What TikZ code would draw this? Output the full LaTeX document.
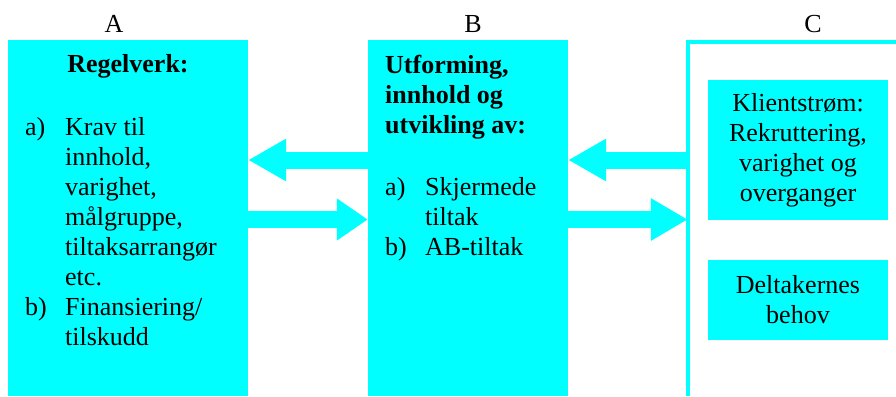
\documentclass[tikz,border=0pt]{standalone}
\usepackage{fontspec}
\setmainfont{Liberation Serif}
\usepackage{tikz}
\usetikzlibrary{arrows.meta}
\usepackage{xcolor}
\definecolor{aqua}{RGB}{0,255,255}

\begin{document}
\begin{tikzpicture}[x=1pt, y=-1pt, font=\fontsize{26}{30}\selectfont]

  \tikzstyle{box} = [rectangle, fill=aqua, inner sep=0pt];
  \tikzstyle{txt} = [inner sep=0pt, align=left, anchor=base west];
  \tikzstyle{fat} = [draw=aqua, line width=17pt, -{Triangle[length=#1, width=40pt]}];
  \tikzset{fat/.default=38pt}
  \useasboundingbox (0,0) rectangle (896,396);

  \node[box, minimum width=240pt, minimum height=356pt] (regel) at (128,218) {};
  \node[box, minimum width=200pt, minimum height=356pt] (utform) at (468,218) {};
  \node[rectangle, inner sep=0pt, minimum width=208pt, minimum height=354pt] (klient) at (792,219) {};
  \draw[aqua, line width=4pt] (klient.south west) -- (klient.north west) -- ([xshift=2pt]klient.north east);

  \node[anchor=base] (labA) at (114,33) {A};
  \node[anchor=base] (labB) at (473,33) {B};
  \node[anchor=base] (labC) at (813,33) {C};

  % multi-line nodes: base = last line
  \node[txt, anchor=base] (regeltit) at (128,73) {\textbf{Regelverk:}};
  \node[txt] (regelliste) at (25,345) {\makebox[40pt][l]{a)}Krav til\\
    \hspace*{40pt}innhold,\\
    \hspace*{40pt}varighet,\\
    \hspace*{40pt}målgruppe,\\
    \hspace*{40pt}tiltaksarrangør\\
    \hspace*{40pt}etc.\\
    \makebox[40pt][l]{b)}Finansiering/\\
    \hspace*{40pt}tilskudd};

  \node[txt, font=\fontsize{26}{30}\selectfont\bfseries] (utformtit) at (385,133) {Utforming,\\innhold og\\utvikling av:};
  \node[txt] (utformliste) at (385,255) {\makebox[40pt][l]{a)}Skjermede\\
    \hspace*{40pt}tiltak\\
    \makebox[40pt][l]{b)}AB-tiltak};

  \node[box, align=center, minimum width=180pt, minimum height=140pt] (strom) at (798,150) {Klientstrøm:\\Rekruttering,\\varighet og\\overganger};
  \node[box, align=center, minimum width=180pt, minimum height=80pt] (behov) at (798,300) {Deltakernes\\behov};

  \draw[fat] (utform.west |- 0,160) -- (regel.east |- 0,160);
  \draw[fat=31pt] (regel.east |- 0,219.5) -- (utform.west |- 0,219.5);
  \draw[fat] (klient.west |- 0,160) -- (utform.east |- 0,160);
  \draw[fat=37pt] (utform.east |- 0,219.5) -- (klient.west |- 0,219.5);
\end{tikzpicture}
\end{document}
